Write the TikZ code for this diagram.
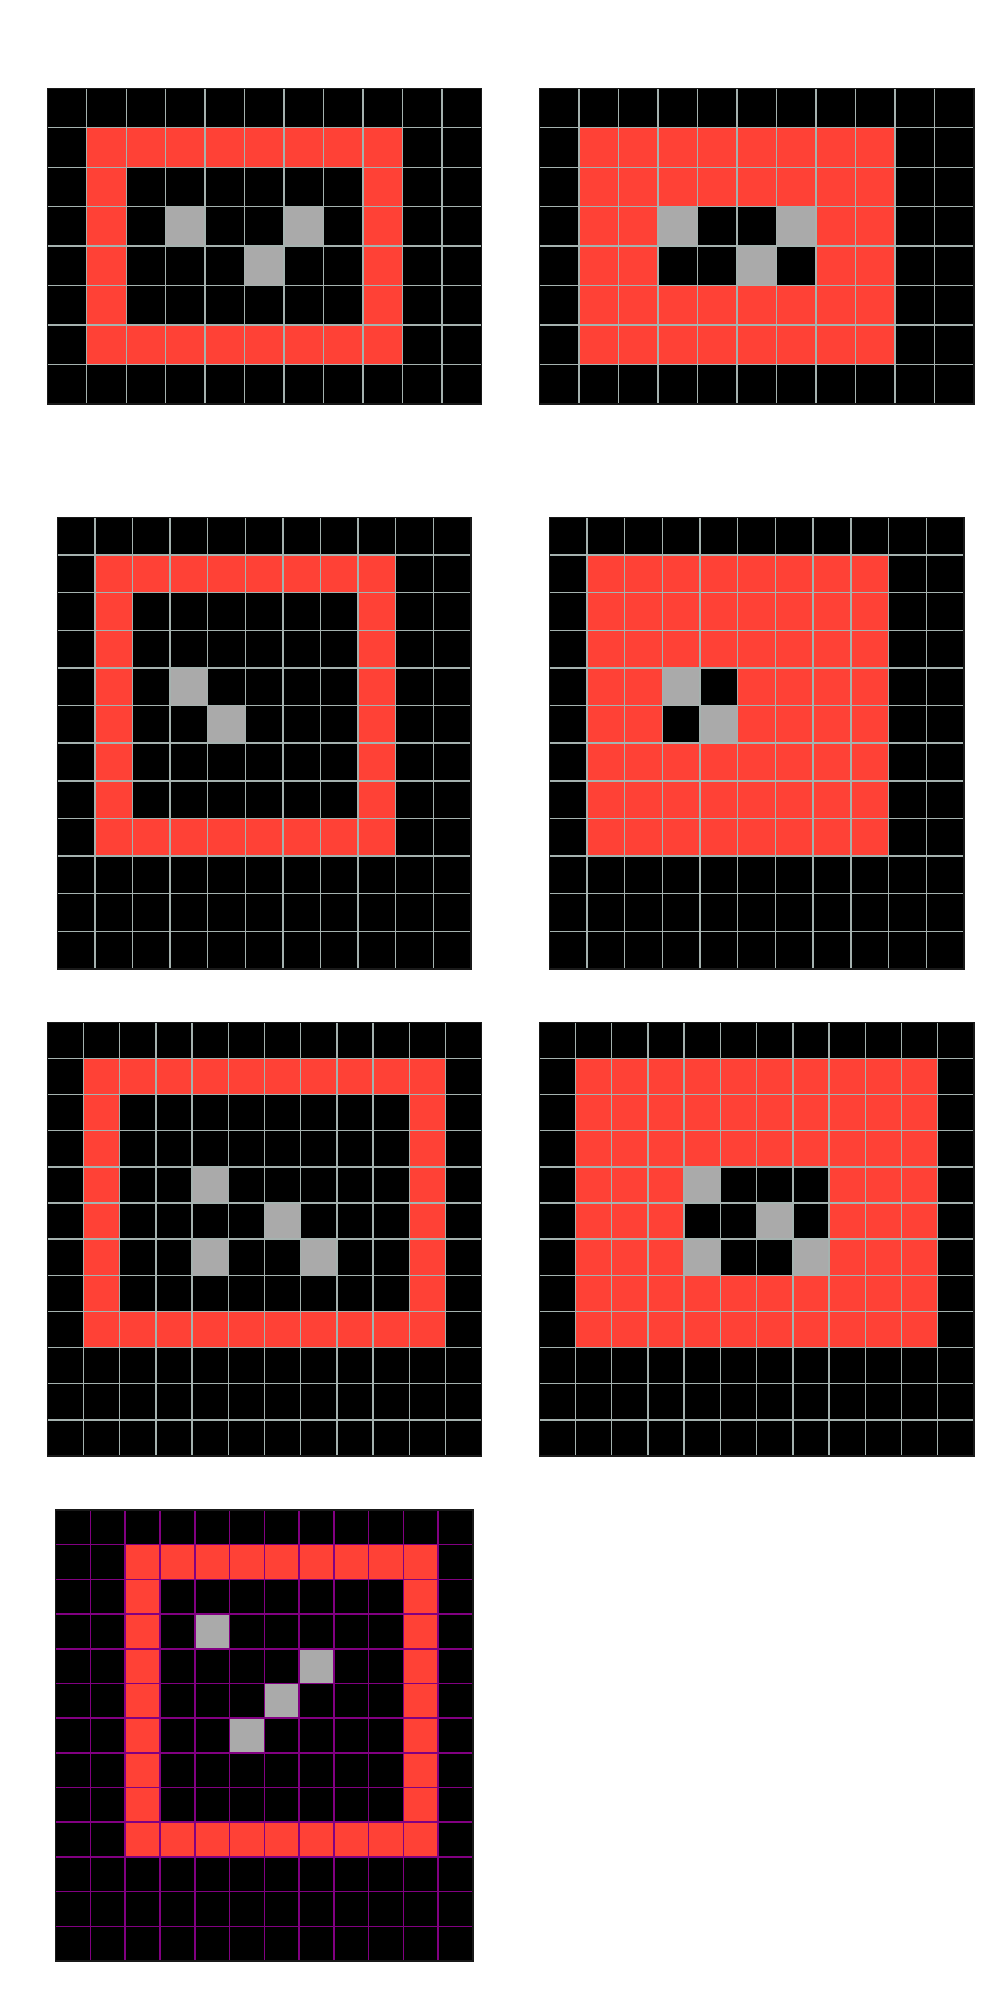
\documentclass[tikz,border=0pt]{standalone}
\usetikzlibrary{positioning}
\definecolor{arcRed}{HTML}{FF4136}
\definecolor{arcGray}{HTML}{AAAAAA}
\definecolor{lineG}{RGB}{165,178,175}
\definecolor{lineP}{RGB}{130,0,130}

% inner grid lines of a board: cols, rows, line style
\newcommand{\boardlines}[3]{%
  \foreach \i in {1,...,\numexpr#1-1\relax} \draw[#3] (\i,0) -- (\i,#2);
  \foreach \j in {1,...,\numexpr#2-1\relax} \draw[#3] (0,\j) -- (#1,\j);
  \draw[frame] (0,0) rectangle (#1,#2);
}

\begin{document}
\begin{tikzpicture}[
  x=0.01cm, y=-0.01cm,
  blackcell/.style={fill=black},
  redcell/.style={fill=arcRed},
  graycell/.style={fill=arcGray},
  gridG/.style={draw=lineG, line width=0.4pt},
  gridP/.style={draw=lineP, line width=0.45pt},
  frame/.style={draw=black!90, line width=0.45pt},
]
\useasboundingbox[fill=white] (0,0) rectangle (1000,2000);

%% ═══ BOARD 1 — 11 x 8 ═══
\begin{scope}[shift={(47.3,88.3)}, x=0.3945cm, y=-0.3945cm]
  \fill[blackcell] (0,0) rectangle (11,8);
  \fill[redcell] (1,1) rectangle (9,7);
  \fill[blackcell] (2,2) rectangle (8,6);
  \foreach \c/\r in {3/3, 6/3, 5/4} \fill[graycell] (\c,\r) rectangle ++(1,1);
  \boardlines{11}{8}{gridG}
\end{scope}

%% ═══ BOARD 2 — 11 x 8 ═══
\begin{scope}[shift={(539.3,88.3)}, x=0.3950cm, y=-0.3945cm]
  \fill[blackcell] (0,0) rectangle (11,8);
  \fill[redcell] (1,1) rectangle (9,7);
  \fill[blackcell] (3,3) rectangle (7,5);
  \foreach \c/\r in {3/3, 6/3, 5/4} \fill[graycell] (\c,\r) rectangle ++(1,1);
  \boardlines{11}{8}{gridG}
\end{scope}

%% ═══ BOARD 3 — 11 x 12 ═══
\begin{scope}[shift={(57.3,517.3)}, x=0.3758cm, y=-0.3762cm]
  \fill[blackcell] (0,0) rectangle (11,12);
  \fill[redcell] (1,1) rectangle (9,9);
  \fill[blackcell] (2,2) rectangle (8,8);
  \foreach \c/\r in {3/4, 4/5} \fill[graycell] (\c,\r) rectangle ++(1,1);
  \boardlines{11}{12}{gridG}
\end{scope}

%% ═══ BOARD 4 — 11 x 12 ═══
\begin{scope}[shift={(549.3,517.3)}, x=0.3767cm, y=-0.3762cm]
  \fill[blackcell] (0,0) rectangle (11,12);
  \fill[redcell] (1,1) rectangle (9,9);
  \fill[blackcell] (3,4) rectangle (5,6);
  \foreach \c/\r in {3/4, 4/5} \fill[graycell] (\c,\r) rectangle ++(1,1);
  \boardlines{11}{12}{gridG}
\end{scope}

%% ═══ BOARD 5 — 12 x 12 ═══
\begin{scope}[shift={(47.3,1022.3)}, x=0.3617cm, y=-0.3612cm]
  \fill[blackcell] (0,0) rectangle (12,12);
  \fill[redcell] (1,1) rectangle (11,9);
  \fill[blackcell] (2,2) rectangle (10,8);
  \foreach \c/\r in {4/4, 6/5, 4/6, 7/6} \fill[graycell] (\c,\r) rectangle ++(1,1);
  \boardlines{12}{12}{gridG}
\end{scope}

%% ═══ BOARD 6 — 12 x 12 ═══
\begin{scope}[shift={(539.3,1022.3)}, x=0.3620cm, y=-0.3612cm]
  \fill[blackcell] (0,0) rectangle (12,12);
  \fill[redcell] (1,1) rectangle (11,9);
  \fill[blackcell] (4,4) rectangle (8,7);
  \foreach \c/\r in {4/4, 6/5, 4/6, 7/6} \fill[graycell] (\c,\r) rectangle ++(1,1);
  \boardlines{12}{12}{gridG}
\end{scope}

%% ═══ BOARD 7 — 12 x 13, purple lines ═══
\begin{scope}[shift={(55.7,1510)}, x=0.3475cm, y=-0.3467cm]
  \fill[blackcell] (0,0) rectangle (12,13);
  \fill[redcell] (2,1) rectangle (11,10);
  \fill[blackcell] (3,2) rectangle (10,9);
  \foreach \c/\r in {4/3, 7/4, 6/5, 5/6} \fill[graycell] (\c,\r) rectangle ++(1,1);
  \boardlines{12}{13}{gridP}
\end{scope}

\end{tikzpicture}
\end{document}
